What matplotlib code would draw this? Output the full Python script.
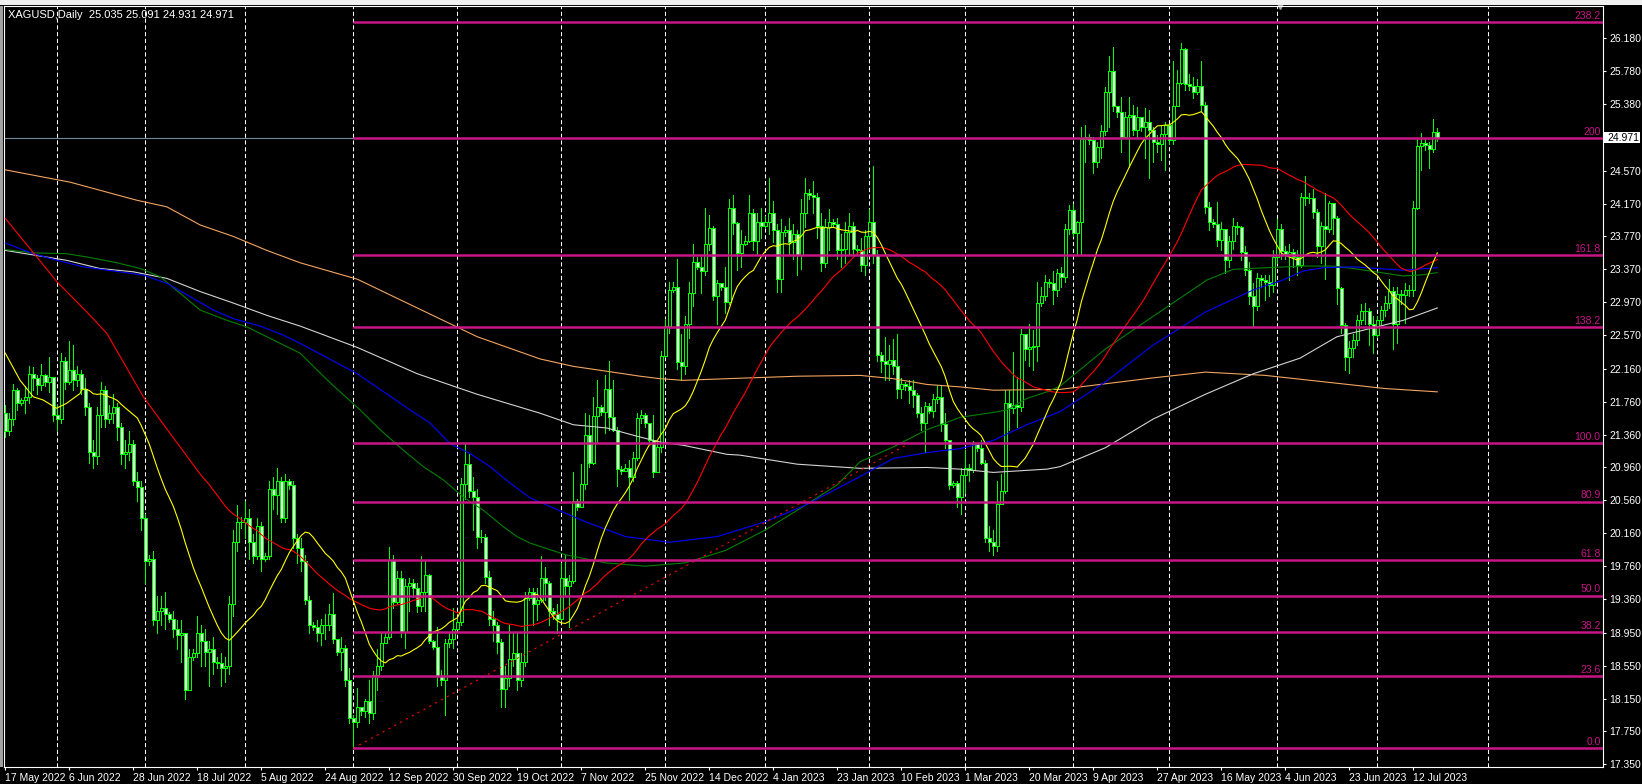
import numpy as np
import matplotlib
matplotlib.use("Agg")
import matplotlib.pyplot as plt
from matplotlib.collections import LineCollection, PolyCollection
from matplotlib.transforms import blended_transform_factory
from matplotlib.patches import Rectangle

plt.rcParams['font.family'] = ['Liberation Sans', 'DejaVu Sans']

# ---------------- data ----------------
SYMBOL = "XAGUSD"
TIMEFRAME = "Daily"
FIRST_OPEN = 21.62
LAST_OPEN = 25.035

CLOSE = [
    21.40, 21.55, 21.90, 21.74, 21.78, 21.82, 22.10, 22.05, 21.96, 22.08, 22.00, 22.06, 21.60, 21.55, 22.25, 22.00,
    22.15, 22.02, 22.10, 21.92, 21.70, 21.15, 21.10, 21.60, 21.90, 21.55, 21.62, 21.70, 21.45, 21.12, 21.15, 21.25,
    20.80, 20.72, 20.35, 19.82, 19.85, 19.10, 19.22, 19.25, 19.18, 19.12, 19.00, 18.92, 18.95, 18.25, 18.65, 18.70,
    18.95, 18.85, 18.72, 18.75, 18.60, 18.58, 18.52, 18.55, 19.30, 20.05, 20.30, 20.30, 20.35, 20.05, 19.88, 20.25,
    19.85, 19.88, 20.70, 20.62, 20.80, 20.35, 20.80, 20.75, 20.10, 19.98, 19.82, 19.35, 19.05, 19.02, 18.95, 19.05,
    19.05, 19.18, 18.88, 18.72, 18.76, 18.38, 17.91, 17.86, 18.05, 18.00, 18.12, 17.98, 18.44, 18.55, 18.82, 18.90,
    19.83, 19.33, 19.62, 18.96, 19.52, 19.55, 19.50, 19.28, 19.45, 19.65, 18.85, 18.78, 18.42, 18.38, 18.82, 18.88,
    19.00, 19.08, 20.76, 21.00, 20.68, 20.60, 20.11, 20.12, 19.63, 19.12, 19.05, 18.84, 18.26, 18.40, 18.63, 18.70,
    18.38, 18.59, 19.37, 19.45, 19.30, 19.35, 19.62, 19.55, 19.22, 19.18, 19.12, 19.62, 19.52, 19.58, 20.55, 20.48,
    20.76, 21.36, 21.02, 21.59, 21.69, 21.64, 21.91, 21.57, 21.42, 20.94, 20.92, 20.95, 20.85, 21.07, 21.56, 21.60,
    21.50, 21.30, 20.90, 21.21, 22.32, 22.68, 23.12, 23.15, 22.24, 22.20, 22.70, 23.08, 23.46, 23.40, 23.35, 23.68,
    23.87, 23.05, 23.20, 23.15, 22.97, 24.11, 23.93, 23.57, 23.68, 23.72, 24.05, 23.72, 23.95, 23.90, 23.95, 24.05,
    23.85, 23.25, 23.82, 23.85, 23.70, 23.80, 23.55, 24.05, 24.30, 24.28, 24.25, 23.90, 23.45, 23.88, 23.95, 23.92,
    23.60, 23.62, 23.82, 23.90, 23.62, 23.60, 23.42, 23.78, 23.95, 23.55, 22.33, 22.25, 22.22, 22.27, 22.20, 21.92,
    21.98, 21.95, 21.90, 21.84, 21.62, 21.50, 21.71, 21.65, 21.79, 21.82, 21.49, 21.30, 20.75, 20.77, 20.60, 20.87,
    20.95, 20.93, 21.24, 21.20, 21.02, 20.10, 20.05, 20.00, 20.52, 20.68, 21.75, 21.68, 21.72, 21.70, 22.58, 22.40,
    22.42, 22.44, 22.96, 23.04, 23.22, 23.20, 23.12, 23.32, 23.28, 23.86, 24.09, 23.81, 23.94, 24.96, 24.98, 24.94,
    24.67, 24.86, 25.05, 25.53, 25.78, 25.36, 25.28, 24.98, 25.22, 25.25, 25.07, 25.22, 25.10, 25.16, 25.07, 24.92,
    24.90, 25.02, 25.12, 24.94, 25.36, 25.64, 26.05, 25.62, 25.60, 25.53, 25.60, 25.37, 24.13, 23.95, 23.92, 23.73,
    23.86, 23.48, 23.72, 23.90, 23.88, 23.58, 23.36, 23.05, 22.92, 23.26, 23.24, 23.22, 23.18, 23.52, 23.86, 23.59,
    23.56, 23.58, 23.52, 23.42, 24.25, 24.24, 24.24, 24.07, 23.65, 23.90, 23.86, 24.18, 24.00, 23.14, 22.69, 22.30,
    22.41, 22.51, 22.75, 22.86, 22.86, 22.71, 22.57, 22.75, 22.88, 22.96, 23.11, 22.71, 23.07, 23.06, 23.12, 23.12,
    24.12, 24.87, 24.91, 24.88, 24.83, 25.035, 24.971,
]
HIGH = [
    21.72, 21.62, 21.98, 21.93, 21.80, 21.95, 22.20, 22.18, 22.08, 22.22, 22.10, 22.30, 22.02, 21.72, 22.35, 22.30,
    22.50, 22.45, 22.20, 22.15, 22.05, 21.75, 21.30, 21.70, 22.00, 21.95, 21.72, 21.85, 21.75, 21.50, 21.30, 21.40,
    21.30, 20.90, 20.80, 20.40, 19.90, 19.95, 19.40, 19.40, 19.45, 19.20, 19.22, 19.10, 19.10, 18.95, 18.75, 18.75,
    19.15, 19.05, 19.00, 18.85, 18.90, 18.65, 18.70, 18.65, 19.40, 20.20, 20.50, 20.36, 20.55, 20.45, 20.15, 20.35,
    20.30, 19.92, 20.80, 20.85, 20.95, 20.85, 20.88, 20.82, 20.80, 20.15, 20.10, 19.90, 19.40, 19.08, 19.10, 19.12,
    19.18, 19.30, 19.43, 18.80, 18.90, 18.80, 18.52, 17.95, 18.28, 18.05, 18.15, 18.38, 18.48, 18.75, 18.95, 18.95,
    19.99, 19.90, 19.70, 19.70, 19.60, 19.62, 19.60, 19.55, 19.88, 19.84, 19.66, 18.86, 19.02, 18.50, 18.88, 18.95,
    19.25, 19.12, 20.83, 21.24, 21.12, 20.85, 20.70, 20.20, 20.15, 19.70, 19.22, 19.08, 18.88, 18.55, 19.05, 18.95,
    18.95, 18.70, 19.45, 19.50, 19.50, 19.50, 19.88, 19.75, 19.58, 19.25, 19.30, 19.80, 19.90, 19.65, 20.90, 20.58,
    21.00, 21.62, 21.60, 21.82, 22.03, 21.72, 22.08, 22.25, 22.03, 21.45, 20.98, 21.00, 21.05, 21.15, 21.62, 21.66,
    21.62, 21.35, 21.60, 21.28, 22.38, 22.77, 23.21, 23.22, 23.50, 22.58, 22.80, 23.21, 23.68, 23.52, 23.52, 24.11,
    24.03, 23.90, 23.24, 23.20, 23.40, 24.23, 24.28, 23.95, 23.85, 23.78, 24.28, 24.10, 24.05, 24.12, 24.02, 24.48,
    24.20, 23.92, 23.98, 23.90, 24.00, 23.92, 23.85, 24.22, 24.48, 24.35, 24.45, 24.30, 24.05, 23.98, 24.10, 23.98,
    24.00, 23.80, 23.95, 24.05, 23.95, 23.66, 23.75, 23.85, 24.10, 24.63, 23.60, 22.36, 22.55, 22.45, 22.52, 22.58,
    22.05, 22.00, 22.02, 22.02, 21.86, 21.70, 21.76, 21.75, 21.85, 21.96, 21.96, 21.62, 21.30, 20.80, 20.80, 20.95,
    21.17, 21.00, 21.28, 21.25, 21.29, 21.05, 20.25, 20.20, 20.80, 20.88, 21.90, 21.90, 22.36, 22.06, 22.65, 22.55,
    22.70, 22.63, 23.22, 23.16, 23.30, 23.25, 23.35, 23.38, 23.40, 23.92, 24.15, 24.17, 23.96, 25.10, 25.12, 25.02,
    24.98, 24.92, 25.12, 25.59, 25.96, 26.08, 25.33, 25.47, 25.28, 25.47, 25.37, 25.34, 25.18, 25.33, 25.31, 25.10,
    25.00, 25.12, 25.16, 25.14, 25.90, 25.80, 26.12, 26.06, 25.75, 25.71, 25.68, 25.90, 25.40, 24.19, 23.98, 24.19,
    23.95, 23.86, 23.78, 24.00, 23.95, 23.90, 23.65, 23.46, 23.20, 23.32, 23.30, 23.30, 23.30, 23.60, 23.98, 23.92,
    23.65, 23.68, 23.62, 23.60, 24.30, 24.50, 24.30, 24.35, 24.10, 23.95, 24.30, 24.20, 24.18, 24.02, 23.16, 22.72,
    22.50, 22.58, 22.82, 22.95, 22.96, 22.90, 22.80, 22.80, 22.92, 23.05, 23.25, 23.15, 23.15, 23.12, 23.20, 23.18,
    24.20, 24.95, 25.03, 24.95, 24.92, 25.20, 25.091,
]
LOW = [
    21.33, 21.35, 21.48, 21.66, 21.72, 21.62, 21.75, 21.90, 21.85, 21.90, 21.95, 21.88, 21.52, 21.42, 21.50, 21.92,
    21.98, 21.90, 21.95, 21.85, 21.60, 21.02, 20.95, 21.00, 21.45, 21.45, 21.50, 21.50, 21.30, 21.00, 20.95, 21.05,
    20.75, 20.55, 20.20, 19.55, 19.78, 19.05, 18.95, 19.05, 19.00, 19.08, 18.90, 18.75, 18.60, 18.14, 18.25, 18.62,
    18.65, 18.55, 18.55, 18.30, 18.45, 18.52, 18.30, 18.35, 18.45, 19.15, 19.95, 20.22, 20.10, 19.85, 19.80, 19.85,
    19.70, 19.82, 19.85, 20.45, 20.40, 20.30, 20.30, 20.70, 19.98, 19.80, 19.70, 19.30, 18.95, 18.98, 18.85, 18.80,
    18.88, 18.98, 18.82, 18.68, 18.50, 18.30, 17.85, 17.545, 17.80, 17.95, 17.92, 17.85, 17.90, 18.25, 18.50, 18.82,
    18.88, 19.25, 19.30, 18.90, 18.76, 19.22, 19.38, 19.20, 19.22, 19.22, 18.82, 18.75, 18.30, 18.32, 17.95, 18.78,
    18.76, 19.02, 19.04, 20.58, 20.60, 20.20, 19.98, 20.05, 19.55, 19.05, 18.85, 18.70, 18.05, 18.05, 18.30, 18.55,
    18.25, 18.30, 18.55, 19.35, 19.05, 19.10, 19.32, 19.35, 19.05, 19.12, 18.95, 19.10, 19.40, 19.02, 19.55, 20.44,
    20.48, 20.70, 20.96, 21.00, 21.27, 21.60, 21.38, 21.42, 21.40, 20.73, 20.88, 20.92, 20.57, 20.80, 21.05, 21.50,
    21.45, 21.25, 20.85, 20.90, 21.15, 22.30, 22.60, 23.10, 22.16, 22.02, 22.10, 22.53, 22.93, 23.38, 23.08, 23.30,
    23.60, 23.00, 22.71, 23.12, 22.84, 22.95, 23.80, 23.36, 23.40, 23.66, 23.70, 23.60, 23.55, 23.75, 23.88, 23.80,
    23.70, 23.10, 23.10, 23.78, 23.55, 23.50, 23.30, 23.38, 23.88, 24.22, 24.05, 23.75, 23.35, 23.40, 23.60, 23.88,
    23.50, 23.40, 23.45, 23.55, 23.55, 23.55, 23.35, 23.30, 23.62, 23.45, 22.25, 22.12, 22.02, 22.02, 22.10, 21.80,
    21.80, 21.90, 21.75, 21.70, 21.58, 21.42, 21.15, 21.62, 21.58, 21.75, 21.40, 21.20, 20.70, 20.72, 20.48, 20.40,
    20.65, 20.80, 20.90, 21.16, 21.00, 20.05, 19.95, 19.90, 19.95, 20.60, 20.65, 21.42, 21.62, 21.45, 21.65, 22.27,
    22.20, 22.15, 22.25, 22.92, 23.00, 23.15, 22.95, 23.05, 23.15, 23.22, 23.80, 23.78, 23.55, 23.55, 24.68, 24.90,
    24.54, 24.62, 24.72, 25.00, 25.10, 25.30, 25.22, 24.80, 25.06, 24.62, 25.00, 24.98, 25.05, 24.72, 24.48, 24.68,
    24.80, 24.70, 24.58, 24.90, 24.90, 25.41, 25.62, 25.55, 25.55, 25.45, 25.50, 25.30, 24.05, 23.85, 23.88, 23.65,
    23.60, 23.32, 23.40, 23.62, 23.80, 23.48, 23.30, 22.95, 22.68, 22.88, 23.15, 23.00, 23.05, 23.10, 23.45, 23.50,
    23.50, 23.24, 23.40, 23.30, 23.40, 24.15, 24.18, 24.00, 23.52, 23.45, 23.25, 23.82, 23.80, 22.95, 22.60, 22.15,
    22.11, 22.30, 22.45, 22.70, 22.70, 22.45, 22.35, 22.55, 22.70, 22.80, 22.90, 22.40, 22.48, 22.95, 22.72, 23.05,
    23.05, 24.10, 24.58, 24.82, 24.60, 24.80, 24.931,
]

# moving-average starts (before enough closes exist) and long MAs
YELLOW_HEAD_BARS = [0, 3.7, 7, 9.5, 12.8, 15.3, 18.7]
YELLOW_HEAD_VALS = [22.35, 22.02, 21.82, 21.78, 21.68, 21.74, 21.86]
RED_HEAD_BARS = [0, 12.9, 20.4, 25.4, 28.7, 34.5, 38.7, 43.7]
RED_HEAD_VALS = [23.99, 23.22, 22.85, 22.59, 22.31, 21.82, 21.54, 21.21]

GREEN_BARS = [0, 7, 15.3, 20.4, 27.9, 33.7, 38.7, 43.7, 48.7, 55.4, 60.4, 65.4, 73.7, 81, 88.7, 93.7, 99.5,
              104.5, 109.5, 114.5, 119.5, 124.5, 127.9, 131.2, 140, 150, 160, 170, 180, 190, 200, 208, 213.7,
              222, 230.4, 238.7, 247, 250.4, 255.4, 260.4, 263.7, 275, 287, 300.4, 307, 315.4, 324.5, 332,
              337, 341.2, 349.4, 353.7, 358]
GREEN_VALS = [23.61, 23.57, 23.56, 23.52, 23.45, 23.38, 23.28, 23.08, 22.875, 22.75, 22.67, 22.55, 22.35, 22.0,
              21.66, 21.42, 21.17, 20.97, 20.81, 20.6, 20.44, 20.24, 20.12, 20.04, 19.9, 19.8, 19.76, 19.8, 19.95,
              20.2, 20.5, 20.75, 21.03, 21.21, 21.42, 21.57, 21.63, 21.66, 21.8, 21.88, 21.95, 22.4, 22.8, 23.24,
              23.37, 23.39, 23.41, 23.41, 23.38, 23.35, 23.29, 23.3, 23.33]
BLUE_BARS = [0, 7, 12.9, 19.5, 34.5, 40.4, 45.4, 52, 57, 63.7, 69.5, 73.7, 88, 101.2, 106.2, 111.2, 116.2,
             121.2, 126.2, 131.2, 145, 155, 166, 178, 190, 200, 213.7, 222, 230.4, 238.7, 247, 255.4, 263.7,
             275, 287, 300, 312, 319.4, 324.5, 329.5, 337, 349.4, 358]
BLUE_VALS = [23.69, 23.56, 23.48, 23.4, 23.3, 23.2, 23.06, 22.875, 22.77, 22.68, 22.57, 22.47, 22.1, 21.66,
             21.5, 21.25, 21.13, 20.97, 20.77, 20.59, 20.3, 20.12, 20.05, 20.12, 20.3, 20.5, 20.85, 21.07, 21.14,
             21.19, 21.29, 21.48, 21.64, 22.0, 22.45, 22.85, 23.12, 23.24, 23.35, 23.39, 23.4, 23.36, 23.39]
WHITE_BARS = [0, 15.3, 23.7, 32, 40.4, 48.7, 57, 65.4, 73.7, 88, 103, 118, 133.7, 142, 150.4, 158.7, 163.7,
              169.5, 180.4, 183.7, 198, 213.7, 230.4, 238.7, 247, 260.4, 263.7, 275, 287, 300, 312, 323.7,
              332.9, 341.2, 349.5, 358]
WHITE_VALS = [23.6, 23.48, 23.38, 23.34, 23.26, 23.1, 22.96, 22.81, 22.68, 22.42, 22.1, 21.85, 21.62, 21.48,
              21.44, 21.33, 21.27, 21.23, 21.12, 21.11, 21.0, 20.95, 20.96, 20.94, 20.9, 20.94, 20.97, 21.2, 21.55,
              21.85, 22.1, 22.29, 22.55, 22.65, 22.75, 22.9]
ORANGE_BARS = [0, 16.2, 32.9, 40.4, 48.7, 57, 65.4, 73.7, 88, 103, 118, 133.7, 142, 150.4, 158.7, 163.7, 169.5,
               180.4, 198, 213.7, 222, 230.4, 238.7, 247, 263.7, 287, 300, 315, 330, 345, 358]
ORANGE_VALS = [24.58, 24.43, 24.21, 24.13, 23.91, 23.77, 23.6, 23.45, 23.25, 22.9, 22.55, 22.28, 22.19, 22.13,
               22.07, 22.04, 22.02, 22.04, 22.07, 22.08, 22.04, 21.97, 21.94, 21.9, 21.91, 22.05, 22.12, 22.08,
               22.0, 21.92, 21.88]

X_LABELS = ["17 May 2022", "6 Jun 2022", "28 Jun 2022", "18 Jul 2022", "5 Aug 2022", "24 Aug 2022",
            "12 Sep 2022", "30 Sep 2022", "19 Oct 2022", "7 Nov 2022", "25 Nov 2022", "14 Dec 2022",
            "4 Jan 2023", "23 Jan 2023", "10 Feb 2023", "1 Mar 2023", "20 Mar 2023", "9 Apr 2023",
            "27 Apr 2023", "16 May 2023", "4 Jun 2023", "23 Jun 2023", "12 Jul 2023"]
X_LABEL_BARS = [0, 16, 32, 48, 64, 80, 96, 112, 128, 144, 160, 176, 192, 208, 224, 240, 256, 272, 288, 304,
                320, 336, 352]
GRID_BARS = [13, 35, 60, 87, 113, 139, 165, 190, 216, 240, 267, 291, 318, 343, 370.6]
Y_TICKS = [26.180, 25.780, 25.380, 24.570, 24.170, 23.770, 23.370, 22.970, 22.570, 22.160, 21.760, 21.360,
           20.960, 20.560, 20.160, 19.760, 19.360, 18.950, 18.550, 18.150, 17.750, 17.350]

FIB_LEVELS = ["0.0", "23.6", "38.2", "50.0", "61.8", "80.9", "100.0", "138.2", "161.8", "200", "238.2"]
FIB_PRICES = [17.545, 18.420, 18.962, 19.400, 19.837, 20.546, 21.254, 22.671, 23.546, 24.963, 26.380]
FIB_START_BAR = 87
FIB_END_BAR = 226

# ---------------- figure ----------------
W, H = 1642, 784
fig = plt.figure(figsize=(W / 100, H / 100), dpi=100, facecolor='black')
ax_l, ax_r, ax_t, ax_b = 4, 1602.7, 6, 767.3
ax = fig.add_axes([ax_l / W, (H - ax_b) / H, (ax_r - ax_l) / W, (ax_b - ax_t) / H])
ax.set_facecolor('black')
XMIN, XMAX = -0.325, 399.35
YMIN, YMAX = 17.3135, 26.5728
ax.set_xlim(XMIN, XMAX)
ax.set_ylim(YMIN, YMAX)
for s in ax.spines.values():
    s.set_color('white')
    s.set_linewidth(0.8)

# window chrome
fig.patches.append(Rectangle((0, 1 - 5 / H), 1, 5 / H, transform=fig.transFigure,
                             facecolor='#f0f0f0', edgecolor='none'))
fig.patches.append(Rectangle((0, (H - ax_b) / H), 3 / W, (ax_b - ax_t) / H, transform=fig.transFigure,
                             facecolor='#a0a0a0', edgecolor='none'))

n = len(CLOSE)
close = np.array(CLOSE)
opens = np.concatenate([[FIRST_OPEN], close[:-1]])
opens[-1] = LAST_OPEN
highs = np.array(HIGH)
lows = np.array(LOW)
xs = np.arange(n)

# grid
ax.vlines(GRID_BARS, YMIN, YMAX, colors='white', linestyles=(0, (4, 2.5)), linewidth=0.75, zorder=1)

# bid line
ax.axhline(close[-1], color='#778899', linewidth=0.8, zorder=1.5)

# candles
LIME = '#00ff00'
wicks = [[(x, l), (x, h)] for x, l, h in zip(xs, lows, highs)]
ax.add_collection(LineCollection(wicks, colors=LIME, linewidths=0.7, zorder=3, antialiased=False))
bw = 0.62
polys, fcs = [], []
for x, o, c in zip(xs, opens, close):
    lo, hi = min(o, c), max(o, c)
    polys.append([(x - bw / 2, lo), (x + bw / 2, lo), (x + bw / 2, hi), (x - bw / 2, hi)])
    fcs.append('black' if c >= o else 'white')
ax.add_collection(PolyCollection(polys, facecolors=fcs, edgecolors=LIME, linewidths=0.6, zorder=3.5,
                                 antialiased=False))

# moving averages
sma20 = np.convolve(close, np.ones(20) / 20, mode='valid')
sma50 = np.convolve(close, np.ones(50) / 50, mode='valid')
yx = np.concatenate([YELLOW_HEAD_BARS, np.arange(19, n)])
yy = np.concatenate([YELLOW_HEAD_VALS, sma20])
rx = np.concatenate([RED_HEAD_BARS, np.arange(49, n)])
ry = np.concatenate([RED_HEAD_VALS, sma50])
ma_lw = 0.8
ax.plot(ORANGE_BARS, ORANGE_VALS, color='#f4a460', lw=ma_lw, zorder=4)
ax.plot(WHITE_BARS, WHITE_VALS, color='#d3d3d3', lw=ma_lw, zorder=4)
ax.plot(GREEN_BARS, GREEN_VALS, color='#008000', lw=ma_lw, zorder=4)
ax.plot(BLUE_BARS, BLUE_VALS, color='#0000ff', lw=ma_lw, zorder=4)
ax.plot(rx, ry, color='#ff0000', lw=ma_lw, zorder=4)
ax.plot(yx, yy, color='#ffff00', lw=ma_lw, zorder=4)

# fibonacci
FIB_COLOR = '#c71585'
ax.plot([FIB_START_BAR, FIB_END_BAR], [FIB_PRICES[0], FIB_PRICES[6]], color='#ff0000', lw=0.8,
        linestyle=(0, (2, 4)), zorder=5)
ax.hlines(FIB_PRICES, FIB_START_BAR, XMAX, colors=FIB_COLOR, linewidth=1.8, zorder=6)
bt = blended_transform_factory(ax.transAxes, ax.transData)
for lab, p in zip(FIB_LEVELS, FIB_PRICES):
    ax.annotate(lab, xy=(1.0, p), xycoords=bt, xytext=(-1.5, 0.9), textcoords='offset points',
                ha='right', va='bottom', color=FIB_COLOR, fontsize=7.5, zorder=7)

# axes ticks
ax.yaxis.tick_right()
ax.set_yticks(Y_TICKS)
ax.set_yticklabels([f"{v:.3f}" for v in Y_TICKS])
ax.tick_params(axis='y', colors='white', length=2.5, width=0.8, labelsize=7.5, pad=2, left=False)
ax.set_xticks(X_LABEL_BARS)
ax.set_xticklabels(X_LABELS, ha='left')
ax.tick_params(axis='x', colors='white', length=2.5, width=0.8, labelsize=7.5, pad=1.5)

# bid price box
box_h = 11.0 / 82.22
ax.add_patch(Rectangle((1.0 + 0.6 / (ax_r - ax_l), close[-1] - box_h / 2), 37.0 / (ax_r - ax_l), box_h,
                       transform=bt, facecolor='white', edgecolor='none', clip_on=False, zorder=8))
ax.text(1.0 + 5.0 / (ax_r - ax_l), close[-1], f"{close[-1]:.3f}", transform=bt, color='black',
        fontsize=7.5, va='center', ha='left', clip_on=False, zorder=9)

# title
title = f"{SYMBOL},{TIMEFRAME}  {opens[-1]:.3f} {highs[-1]:.3f} {lows[-1]:.3f} {close[-1]:.3f}"
ax.text((8.3 - ax_l) / (ax_r - ax_l), (ax_b - 10.5) / (ax_b - ax_t), title, transform=ax.transAxes,
        color='white', fontsize=8, va='top', ha='left', zorder=9)

# chart shift marker
ax.plot([0.798], [1.0], marker='v', markersize=5, color='#a0a0a0', transform=ax.transAxes, clip_on=False)

fig.savefig('out.png', dpi=100, facecolor='black')
